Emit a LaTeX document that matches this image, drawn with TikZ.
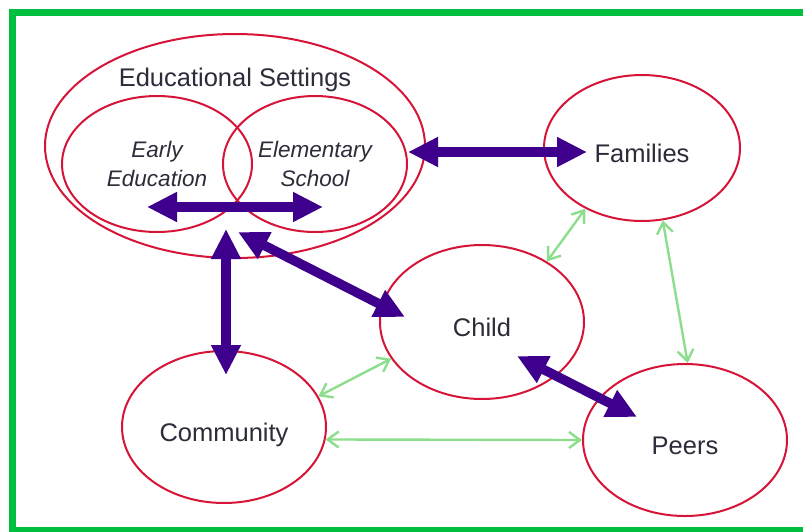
\documentclass[tikz,border=0pt]{standalone}
\usepackage{fontspec}
\setmainfont{Liberation Sans}
\usetikzlibrary{arrows.meta,shapes.geometric}
\definecolor{edge}{RGB}{0,190,64}
\definecolor{rose}{RGB}{214,20,56}
\definecolor{ink}{RGB}{44,44,58}
\definecolor{deep}{RGB}{62,0,140}
\definecolor{mint}{RGB}{140,222,140}
\begin{document}
\begin{tikzpicture}[
      x=1pt, y=-1pt,
      oval/.style={draw=rose, line width=2pt, ellipse, inner sep=0pt, text=ink, text height=28pt, text depth=0pt, font=\fontsize{25.5}{28}\selectfont},
      sub/.style={oval, align=center, text height=, text depth=, font=\fontsize{22.5}{29}\selectfont\itshape},
      arr/.style={draw=deep, line width=9.5pt, {Triangle[length=30pt,width=28pt]}-{Triangle[length=30pt,width=28pt]}},
      link/.style={draw=mint, line width=2.4pt, {Straight Barb[length=11pt,width=16pt]}-{Straight Barb[length=11pt,width=16pt]}},
    ]
    \useasboundingbox (0,0) rectangle (803,531);
    \fill[white] (0,0) rectangle (803,531);
    \begin{scope}
      \clip (0,0) rectangle (803,531);
      \draw[draw=edge, line width=7pt] (815,12) -- (12,12) -- (12,530) -- (815,530);
    \end{scope}
    \node[oval, minimum width=380pt, minimum height=224pt] (edu) at (235,146) {};
    \node[text=ink, font=\fontsize{25.5}{28}\selectfont] (edutxt) at (235,80) {Educational Settings};
    \node[sub, minimum width=190pt, minimum height=136pt] (early) at (157,164) {Early\\Education};
    \node[sub, minimum width=184pt, minimum height=136pt] (elem)  at (315,164) {Elementary\\School};
    \node[oval, minimum width=196pt, minimum height=146pt] (fam)   at (642,148) {Families};
    \node[oval, minimum width=204pt, minimum height=154pt] (child) at (482,322) {Child};
    \node[oval, minimum width=204pt, minimum height=152pt] (peers) at (685,440) {Peers};
    \node[oval, minimum width=204pt, minimum height=152pt] (comm)  at (224,427) {Community};
    \coordinate (inL)     at (147,207);
    \coordinate (inR)     at (323,207);
    \coordinate (eduE)    at (408,152);
    \coordinate (famIn)   at (587,152);
    \coordinate (eduS)    at (226,229);
    \coordinate (commIn)  at (226,375);
    \coordinate (eduSE)   at (238,232);
    \coordinate (childIn) at (405,317);
    \coordinate (childSE) at (517,356);
    \coordinate (peersIn) at (637,417);
    \draw[arr] (inL)     -- (inR);
    \draw[arr] (eduE)    -- (famIn);
    \draw[arr] (eduS)    -- (commIn);
    \draw[arr] (eduSE)   -- (childIn);
    \draw[arr] (childSE) -- (peersIn);
    \draw[link] (fam.227)  -- (child.43);
    \draw[link] (fam.286)  -- (peers.88);
    \draw[link] (comm.18)  -- (child.202);
    \draw[link] (comm.353) -- (peers.west);
  \end{tikzpicture}
\end{document}
